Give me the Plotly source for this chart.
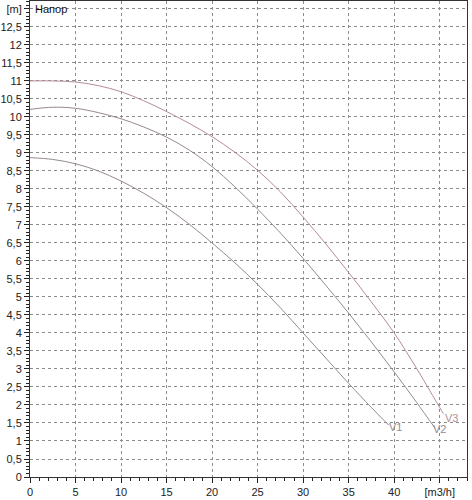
import plotly.graph_objects as go

# pump curves: flow [m3/h] vs head [m]
v1_x = [0, 2.5, 5, 7.5, 10, 12.5, 15, 17.5, 20, 22.5, 25, 27.5, 30, 32.5, 35, 37.5, 39.4]
v1_y = [8.87, 8.82, 8.7, 8.5, 8.22, 7.88, 7.48, 7.02, 6.5, 5.95, 5.35, 4.7, 4.0, 3.3, 2.6, 1.93, 1.44]

v2_x = [0, 2.5, 5, 7.5, 10, 12.5, 15, 17.5, 20, 22.5, 25, 27.5, 30, 32.5, 35, 37.5, 40, 42.5, 44.5]
v2_y = [10.21, 10.27, 10.24, 10.12, 9.95, 9.72, 9.44, 9.08, 8.62, 8.06, 7.44, 6.78, 6.07, 5.32, 4.55, 3.75, 2.92, 2.06, 1.35]

v3_x = [0, 2.5, 5, 7.5, 10, 12.5, 15, 17.5, 20, 22.5, 25, 27.5, 30, 32.5, 35, 37.5, 40, 42.5, 45, 45.4]
v3_y = [11.0, 11.0, 10.97, 10.87, 10.7, 10.45, 10.15, 9.82, 9.45, 9.02, 8.52, 7.92, 7.22, 6.47, 5.68, 4.86, 4.0, 3.0, 1.93, 1.76]

curve_names = ["V1", "V2", "V3"]
label_pos = [(40.1, 1.40), (45.0, 1.33), (46.3, 1.63)]

x_ticks = [0, 5, 10, 15, 20, 25, 30, 35, 40, 45]
x_labels = ["0", "5", "10", "15", "20", "25", "30", "35", "40", "[m3/h]"]
y_ticks = [i * 0.5 for i in range(27)]
y_labels = [("%g" % v).replace(".", ",") for v in y_ticks[:-1]] + ["[m]"]

colors = ["#968890", "#968890", "#b48c9a"]

fig = go.Figure()
for xs, ys, name, col in zip([v1_x, v2_x, v3_x], [v1_y, v2_y, v3_y], curve_names, colors):
    fig.add_trace(go.Scatter(
        x=xs, y=ys, mode="lines", name=name,
        line=dict(color=col, width=1, shape="spline", smoothing=1),
        hoverinfo="skip"
    ))

for name, (lx, ly), col in zip(curve_names, label_pos, colors):
    fig.add_annotation(x=lx, y=ly, text=name, showarrow=False,
                       font=dict(size=11, color=col, family="Liberation Sans"),
                       xanchor="center", yanchor="middle")

fig.add_annotation(x=0.008, y=13, xref="paper", yref="y", text="Напор", showarrow=False,
                   xanchor="left", yanchor="middle",
                   font=dict(size=11, color="#111", family="Liberation Sans"))

grid = dict(showgrid=True, gridcolor="#8c8c8c", gridwidth=1, griddash="3px,3px")

fig.update_layout(
    width=472, height=500,
    margin=dict(l=30, r=5, t=1, b=23, autoexpand=False),
    plot_bgcolor="white", paper_bgcolor="white",
    showlegend=False,
    font=dict(family="Liberation Sans", size=11, color="#222"),
    xaxis=dict(
        range=[0, 48.0], tickmode="array", tickvals=x_ticks, ticktext=x_labels,
        ticks="outside", ticklen=5, tickcolor="#222", automargin=False,
        showline=True, linecolor="#333", linewidth=1, mirror=True,
        zeroline=False,
        minor=dict(tickmode="linear", tick0=0, dtick=1, ticks="outside", ticklen=3,
                   tickcolor="#222", showgrid=False),
        **grid
    ),
    yaxis=dict(
        range=[0, 13.22], tickmode="array", tickvals=y_ticks, ticktext=y_labels,
        ticks="outside", ticklen=5, tickcolor="#222", automargin=False,
        showline=True, linecolor="#333", linewidth=1, mirror=True,
        zeroline=False,
        minor=dict(tickmode="linear", tick0=0, dtick=0.1, ticks="outside", ticklen=3,
                   tickcolor="#222", showgrid=False),
        **grid
    ),
)

fig.write_html("out.html", config={"displayModeBar": False},
               post_script="document.body.style.margin='0';")
